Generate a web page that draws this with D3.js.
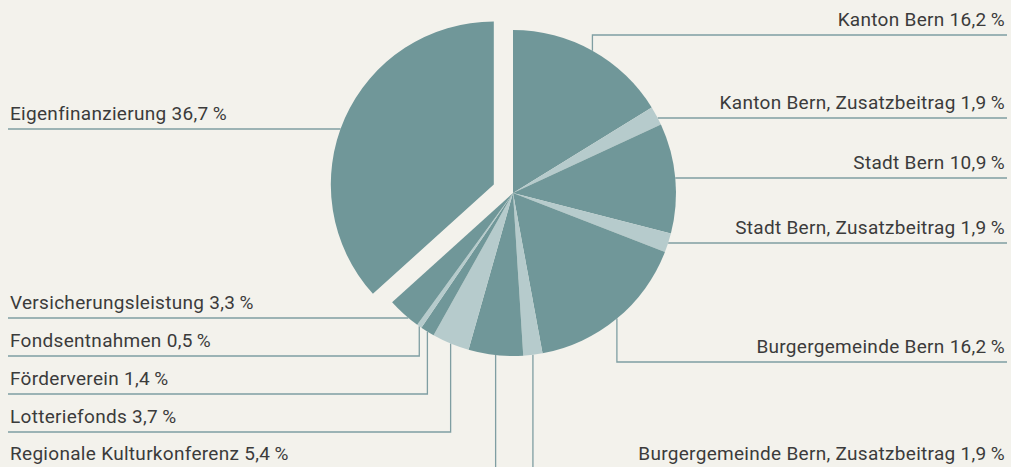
<!DOCTYPE html>
<html>
<head>
<meta charset="utf-8">
<script src="https://cdn.jsdelivr.net/npm/d3@7"></script>
<style>
  html, body { margin: 0; padding: 0; background: #f3f2ec; }
  svg { display: block; }
  text { font-family: Roboto, "DejaVu Sans", sans-serif; fill: #3b3b3b; }
</style>
</head>
<body>
<div id="chart"></div>
<script>
// Finanzierung, Anteile in Prozent (im Uhrzeigersinn ab 12 Uhr)
var categories = ["Kanton Bern", "Kanton Bern, Zusatzbeitrag", "Stadt Bern", "Stadt Bern, Zusatzbeitrag",
    "Burgergemeinde Bern", "Burgergemeinde Bern, Zusatzbeitrag", "Regionale Kulturkonferenz",
    "Lotteriefonds", "Förderverein", "Fondsentnahmen", "Versicherungsleistung", "Eigenfinanzierung"];
var shares = [16.2, 1.9, 10.9, 1.9, 16.2, 1.9, 5.4, 3.7, 1.4, 0.5, 3.3, 36.7];
var shareLabels = ["16,2", "1,9", "10,9", "1,9", "16,2", "1,9", "5,4", "3,7", "1,4", "0,5", "3,3", "36,7"];
var tones = ["dark", "light", "dark", "light", "dark", "light", "dark", "light", "dark", "light", "dark", "dark"];
var explodedCategory = "Eigenfinanzierung";

// label layout
var labelSide = ["right", "right", "right", "right", "right", "right", "left", "left", "left", "left", "left", "left"];
var labelRow = [35, 118, 178, 243, 362, 469, 469, 432, 394, 356, 318, 129];
var leaderKind = ["elbow", "flat", "flat", "flat", "elbow", "elbow", "elbow", "elbow", "elbow", "elbow", "flat", "flat"];

var width = 1011, height = 467;
var cx = 513, cy = 193, radius = 163, explode = 21;
var lineLeft = 8, lineRight = 1007, textLeft = 10, textRight = 1005;
var toneColor = { dark: "#709799", light: "#b6cbcc" };
var lineColor = "#7f9ea2";

var svg = d3.select("#chart").append("svg")
    .attr("width", width)
    .attr("height", height);

var data = categories.map(function (c, i) {
    return { name: c, value: shares[i], label: shareLabels[i], tone: tones[i],
             side: labelSide[i], row: labelRow[i], kind: leaderKind[i] };
});

var pie = d3.pie().sort(null).value(function (d) { return d.value; });
var arcs = pie(data);

var arc = d3.arc().innerRadius(0).outerRadius(radius);

function offsetOf(a) {
    if (a.data.name !== explodedCategory) return [0, 0];
    var m = (a.startAngle + a.endAngle) / 2;
    return [explode * Math.sin(m), -explode * Math.cos(m)];
}

// leaders first, pie on top
var leaders = svg.append("g")
    .attr("fill", "none")
    .attr("stroke", lineColor)
    .attr("stroke-width", 1.3);

arcs.forEach(function (a) {
    var d = a.data;
    var off = offsetOf(a);
    var ox = cx + off[0], oy = cy + off[1];
    var endX = d.side === "right" ? lineRight : lineLeft;
    var pts;
    if (d.kind === "flat") {
        var dy = d.row - oy;
        var dx = Math.sqrt(Math.max(0, radius * radius - dy * dy));
        var edgeX = d.side === "right" ? ox + dx : ox - dx;
        pts = [[endX, d.row], [edgeX, d.row]];
    } else {
        var m = (a.startAngle + a.endAngle) / 2;
        var ex = ox + radius * Math.sin(m), ey = oy - radius * Math.cos(m);
        pts = [[endX, d.row], [ex, d.row], [ex, ey]];
    }
    leaders.append("path").attr("d", d3.line()(pts));
});

var slices = svg.append("g");
slices.selectAll("path")
    .data(arcs)
    .enter().append("path")
    .attr("d", arc)
    .attr("transform", function (a) {
        var off = offsetOf(a);
        return "translate(" + (cx + off[0]) + "," + (cy + off[1]) + ")";
    })
    .attr("fill", function (a) { return toneColor[a.data.tone]; });

svg.append("g").selectAll("text")
    .data(data)
    .enter().append("text")
    .attr("x", function (d) { return d.side === "right" ? textRight : textLeft; })
    .attr("y", function (d) { return d.row - 9; })
    .attr("text-anchor", function (d) { return d.side === "right" ? "end" : "start"; })
    .style("font-size", "19px")
    .style("letter-spacing", "0.3px")
    .text(function (d) { return d.name + " " + d.label + "\u2009%"; });
</script>
</body>
</html>
